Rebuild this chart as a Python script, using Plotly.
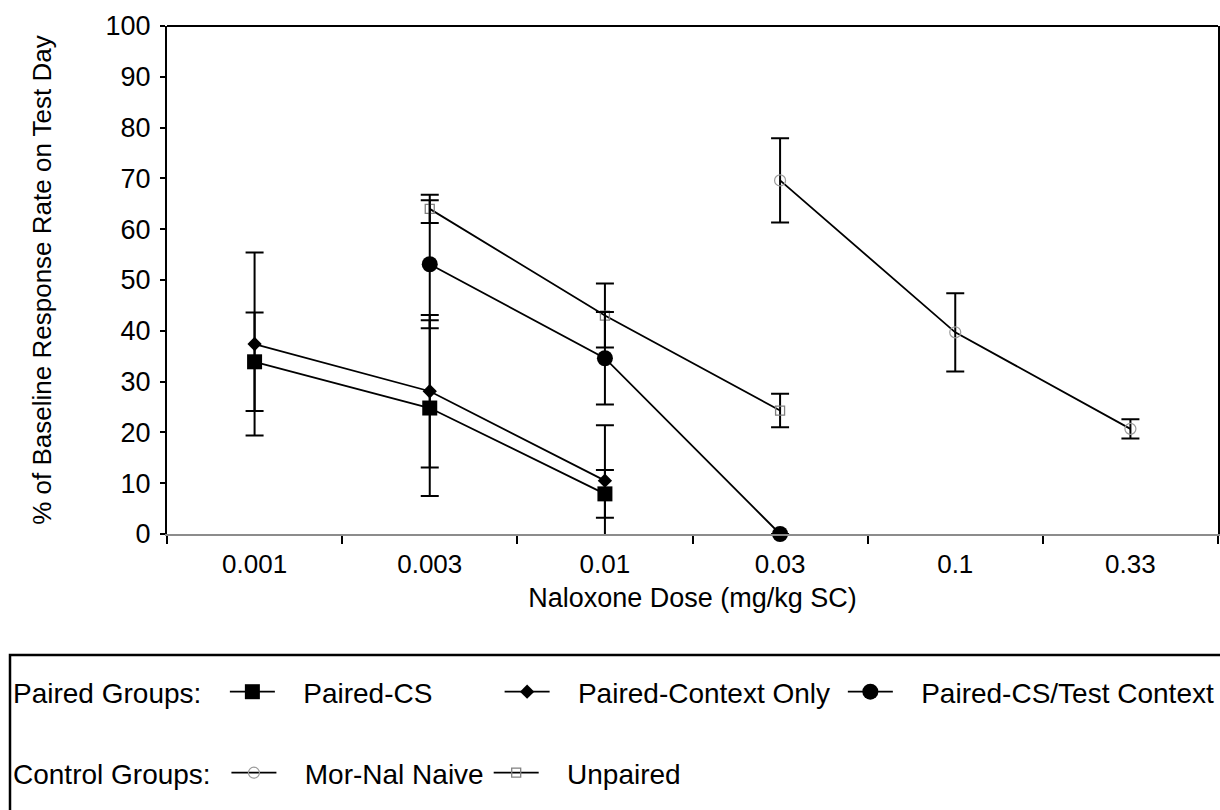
import plotly.graph_objects as go

# ---- data ----
doses = ["0.001", "0.003", "0.01", "0.03", "0.1", "0.33"]

paired_cs = [33.9, 24.8, 7.9, None, None, None]
paired_cs_err = [9.7, 17.3, 4.7, None, None, None]

paired_context = [37.4, 28.1, 10.5, None, None, None]
paired_context_err = [18.0, 15.0, 10.9, None, None, None]

paired_cs_test = [None, 53.1, 34.6, 0.0, None, None]
paired_cs_test_err = [None, 12.6, 9.1, None, None, None]

mor_nal = [None, None, None, 69.6, 39.7, 20.7]
mor_nal_err = [None, None, None, 8.3, 7.7, 1.9]

unpaired = [None, 64.0, 43.0, 24.3, None, None]
unpaired_err = [None, 2.8, 6.3, 3.3, None, None]

y_ticks = [0, 10, 20, 30, 40, 50, 60, 70, 80, 90, 100]

FONT = "Liberation Sans, Arial, Helvetica, sans-serif"
NB = "\u00a0"

def err(vals, color="black"):
    return dict(type="data", array=vals, visible=True, color=color,
                thickness=2, width=9)

fig = go.Figure()

fig.add_trace(go.Scatter(
    x=doses, y=unpaired, name=NB * 3 + "Unpaired", legend="legend2",
    mode="lines+markers",
    line=dict(color="black", width=1.8),
    marker=dict(symbol="square-open", size=9, color="#808080",
                line=dict(width=1.3, color="#808080")),
    error_y=err(unpaired_err), cliponaxis=False))

fig.add_trace(go.Scatter(
    x=doses, y=mor_nal, name=NB * 3 + "Mor-Nal Naive", legend="legend2",
    mode="lines+markers",
    line=dict(color="black", width=1.8),
    marker=dict(symbol="circle-open", size=11, color="#9a9a9a",
                line=dict(width=1.2, color="#9a9a9a")),
    error_y=err(mor_nal_err), cliponaxis=False))

fig.add_trace(go.Scatter(
    x=doses, y=paired_cs, name=NB * 3 + "Paired-CS" + NB * 8, legend="legend",
    mode="lines+markers",
    line=dict(color="black", width=1.8),
    marker=dict(symbol="square", size=15, color="black"),
    error_y=err(paired_cs_err), cliponaxis=False))

fig.add_trace(go.Scatter(
    x=doses, y=paired_context, name=NB * 3 + "Paired-Context Only" + NB,
    legend="legend",
    mode="lines+markers",
    line=dict(color="black", width=1.8),
    marker=dict(symbol="diamond", size=11, color="black"),
    error_y=err(paired_context_err), cliponaxis=False))

fig.add_trace(go.Scatter(
    x=doses, y=paired_cs_test, name=NB * 3 + "Paired-CS/Test Context",
    legend="legend",
    mode="lines+markers",
    line=dict(color="black", width=1.8),
    marker=dict(symbol="circle", size=16, color="black"),
    error_y=err(paired_cs_test_err), cliponaxis=False))

# plot area: x 167..1218 px, y 26..534 px
W, H = 1220, 810
L, R, T, B = 167, 2, 26, 276
pw = W - L - R
ph = H - T - B

def px_x(px):
    return (px - L) / pw

def px_y(py):
    return (H - B - py) / ph

fig.update_layout(
    width=W, height=H,
    margin=dict(l=L, r=R, t=T, b=B, autoexpand=False),
    paper_bgcolor="white", plot_bgcolor="white",
    font=dict(family=FONT, size=27, color="black"),
    showlegend=True,
    xaxis=dict(
        type="category", categoryorder="array", categoryarray=doses,
        range=[-0.5, 5.5], automargin=False,
        showline=True, linecolor="#8c8c8c", linewidth=2,
        ticks="outside", tickson="boundaries", ticklen=8, tickwidth=1.5,
        tickcolor="black",
        showgrid=False, zeroline=False,
        tickfont=dict(size=26, family=FONT),
        ticklabelstandoff=6,
        title=dict(text="Naloxone Dose (mg/kg SC)", font=dict(size=27, family=FONT),
                   standoff=10),
    ),
    yaxis=dict(
        range=[0, 100], tickvals=y_ticks, automargin=False,
        showline=True, linecolor="black", linewidth=2, mirror=True,
        ticks="outside", ticklen=5, tickwidth=1.5, tickcolor="black",
        showgrid=False, zeroline=False,
        tickfont=dict(size=27, family=FONT),
        ticklabelstandoff=4,
        title=dict(text="% of Baseline Response Rate on Test Day",
                   font=dict(size=26, family=FONT), standoff=46),
    ),
    legend=dict(
        orientation="h", xanchor="left", yanchor="middle",
        x=px_x(11), y=px_y(692),
        title=dict(text="Paired Groups:" + NB * 2, side="left",
                   font=dict(size=28, family=FONT)),
        font=dict(size=28, family=FONT),
        bgcolor="rgba(0,0,0,0)", itemwidth=45, traceorder="normal",
    ),
    legend2=dict(
        orientation="h", xanchor="left", yanchor="middle",
        x=px_x(11), y=px_y(773),
        title=dict(text="Control Groups:" + NB * 1, side="left",
                   font=dict(size=28, family=FONT)),
        font=dict(size=28, family=FONT),
        bgcolor="rgba(0,0,0,0)", itemwidth=45, traceorder="reversed",
    ),
    shapes=[
        # top frame line of the plot area
        dict(type="line", xref="paper", yref="paper", x0=0, x1=1, y0=1, y1=1,
             line=dict(color="black", width=2)),
        # legend box
        dict(type="rect", xref="paper", yref="paper",
             x0=px_x(10), x1=px_x(1226), y0=px_y(655), y1=px_y(818),
             line=dict(color="black", width=2.5)),
    ],
)

fig.write_html(
    "out.html",
    config={"displayModeBar": False},
    post_script="document.body.style.margin='0px';"
                "document.body.style.overflow='hidden';",
)
